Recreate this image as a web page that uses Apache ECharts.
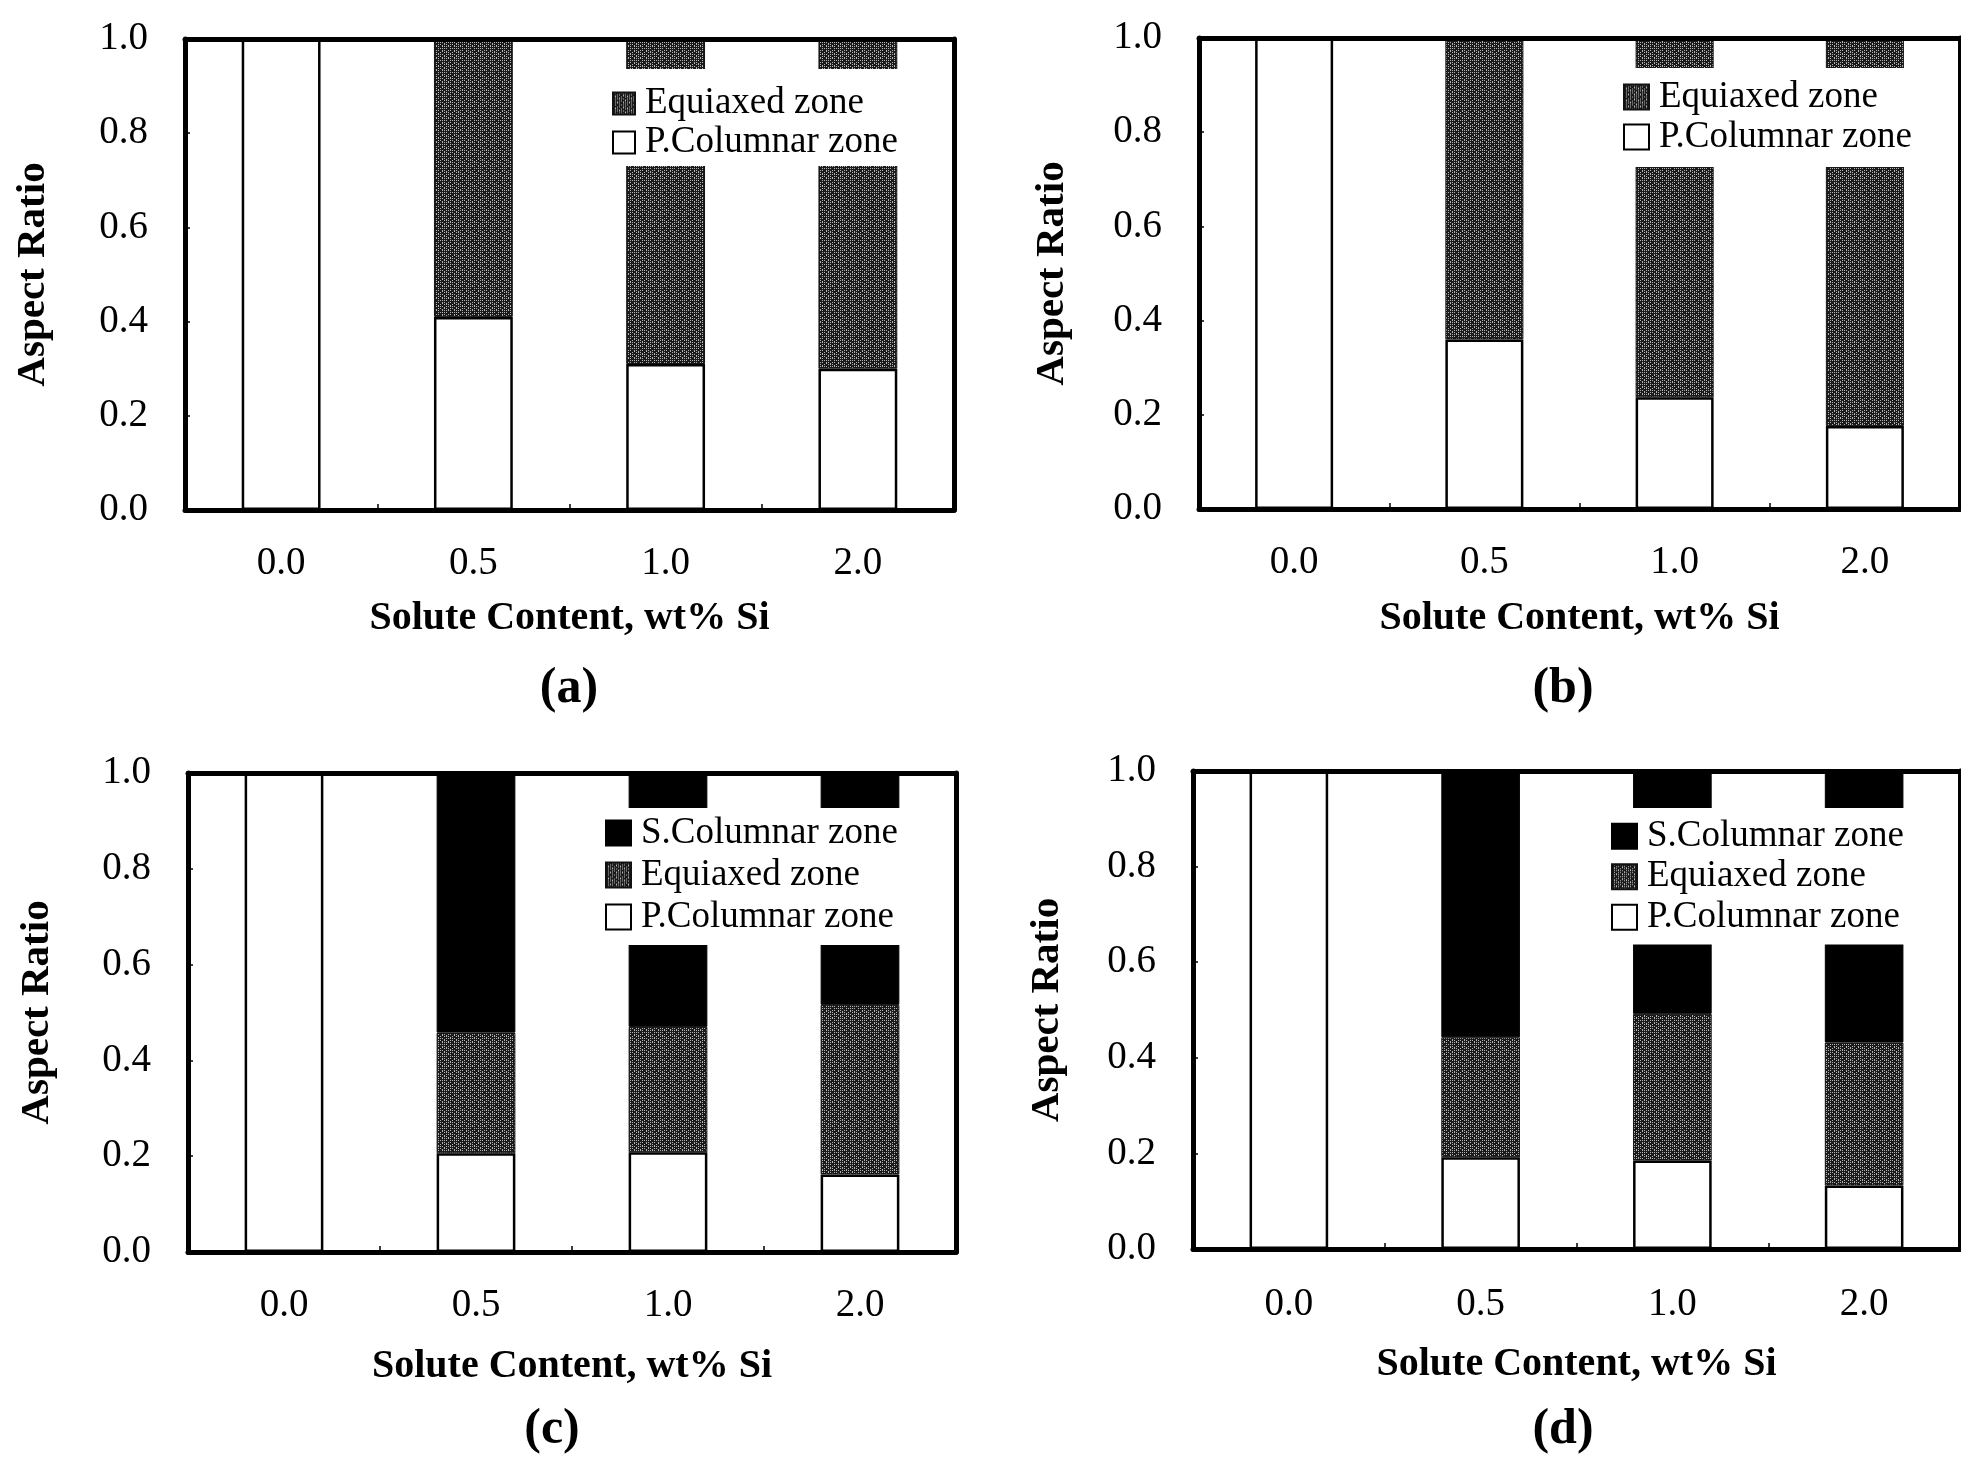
<!DOCTYPE html>
<html><head><meta charset="utf-8">
<style>html,body{margin:0;padding:0;background:#fff}#c{width:1961px;height:1458px}</style>
<script src="https://cdn.jsdelivr.net/npm/echarts@6/dist/echarts.min.js"></script>
</head><body><div id="c"></div>
<script>
// ---- data ----
const categories = ['0.0', '0.5', '1.0', '2.0'];
const xAxisTitle = 'Solute Content, wt% Si';
const yAxisTitle = 'Aspect Ratio';
const panelLabels = ['(a)', '(b)', '(c)', '(d)'];
const seriesNames = ['P.Columnar zone', 'Equiaxed zone', 'S.Columnar zone'];

const pColA = [1.0, 0.41, 0.31, 0.30];
const eqA   = [0, 0.59, 0.69, 0.70];

const pColB = [1.0, 0.36, 0.237, 0.176];
const eqB   = [0, 0.64, 0.763, 0.824];

const pColC = [1.0, 0.206, 0.208, 0.162];
const eqC   = [0, 0.252, 0.262, 0.354];
const sColC = [0, 0.542, 0.53, 0.484];

const pColD = [1.0, 0.192, 0.185, 0.133];
const eqD   = [0, 0.251, 0.307, 0.299];
const sColD = [0, 0.557, 0.508, 0.568];

// ---- styling ----
const FONT = '"Liberation Serif", "Times New Roman", serif';

function makeStipple() {
  const rows = [
    'o.o...o.o.o.',
    '............',
    'o...o.o...o.',
    '..o.......o.',
    'o.o.o...o...',
    '......o.....',
    '..o.o.o.o.o.',
    'o...........',
    'o.o...o.o...',
    '....o.....o.',
    'o.o.o.o...o.',
    '............'
  ];
  const cv = document.createElement('canvas');
  cv.width = 12; cv.height = 12;
  const ctx = cv.getContext('2d');
  ctx.fillStyle = '#1a1a1a';
  ctx.fillRect(0, 0, 12, 12);
  ctx.fillStyle = '#b4b4b4';
  rows.forEach((r, y) => { for (let x = 0; x < r.length; x++) if (r[x] === 'o') ctx.fillRect(x, y, 1, 1); });
  return cv;
}
const stipple = { image: makeStipple(), repeat: 'repeat' };

const panels = [
  { p: pColA, eq: eqA, s: null, grid: { left: 185, top: 39, width: 769, height: 471 },
    legend: { left: 600, top: 69, padding: [15, 10, 4, 12], icon: 22, lh: 39 },
    yNameGap: 131, xNameGap: 89, xLabelMargin: 34, label: [569, 689] },
  { p: pColB, eq: eqB, s: null, grid: { left: 1199, top: 38, width: 761, height: 471 },
    legend: { left: 1611, top: 68, padding: [9, 10, 10, 12], icon: 25, lh: 40 },
    yNameGap: 126, xNameGap: 90, xLabelMargin: 34, label: [1563, 689] },
  { p: pColC, eq: eqC, s: sColC, grid: { left: 188, top: 773, width: 768, height: 479 },
    legend: { left: 593, top: 808, padding: [4, 10, 7, 12], icon: 25, lh: 42 },
    yNameGap: 130, xNameGap: 95, xLabelMargin: 34, label: [552, 1430] },
  { p: pColD, eq: eqD, s: sColD, grid: { left: 1193, top: 771, width: 767, height: 478 },
    legend: { left: 1599, top: 808, padding: [8, 10, 7, 12], icon: 25, lh: 40.5 },
    yNameGap: 125, xNameGap: 96, xLabelMargin: 36, label: [1563, 1430] }
];

const option = { animation: false, backgroundColor: '#fff', grid: [], xAxis: [], yAxis: [], series: [], legend: [], graphic: [] };

panels.forEach((pn, i) => {
  option.grid.push(Object.assign({ containLabel: false }, pn.grid));
  const axisLine = { show: true, onZero: false, lineStyle: { color: '#000', width: 5 } };
  option.xAxis.push({
    gridIndex: i, type: 'category', data: categories, position: 'bottom', boundaryGap: true, z: 10,
    axisLine: axisLine,
    axisTick: { show: true, inside: true, length: 6, lineStyle: { color: '#000', width: 1.5 } },
    axisLabel: { margin: pn.xLabelMargin, fontSize: 39, color: '#000', fontFamily: FONT },
    splitLine: { show: false },
    name: xAxisTitle, nameLocation: 'middle', nameGap: pn.xNameGap,
    nameTextStyle: { fontFamily: FONT, fontWeight: 'bold', fontSize: 40, color: '#000' }
  });
  option.xAxis.push({
    gridIndex: i, type: 'category', data: categories, position: 'top', boundaryGap: true, z: 10,
    axisLine: axisLine, axisTick: { show: false }, axisLabel: { show: false }, splitLine: { show: false }
  });
  option.yAxis.push({
    gridIndex: i, type: 'value', min: 0, max: 1, interval: 0.2, position: 'left', z: 10,
    axisLine: axisLine,
    axisTick: { show: true, inside: true, length: 5, lineStyle: { color: '#000', width: 1.5 } },
    axisLabel: { margin: 37, fontSize: 39, color: '#000', fontFamily: FONT, formatter: v => v.toFixed(1) },
    splitLine: { show: false },
    name: yAxisTitle, nameLocation: 'middle', nameGap: pn.yNameGap,
    nameTextStyle: { fontFamily: FONT, fontWeight: 'bold', fontSize: 41, color: '#000' }
  });
  option.yAxis.push({
    gridIndex: i, type: 'value', min: 0, max: 1, interval: 0.2, position: 'right', z: 10,
    axisLine: axisLine, axisTick: { show: false }, axisLabel: { show: false }, splitLine: { show: false }
  });
  const base = { type: 'bar', xAxisIndex: 2 * i, yAxisIndex: 2 * i, stack: 'st' + i, barWidth: '41%', z: 2 };
  option.series.push(Object.assign({}, base, { name: seriesNames[0], data: pn.p,
    itemStyle: { color: '#fff', borderColor: '#000', borderWidth: 2.5 } }));
  option.series.push(Object.assign({}, base, { name: seriesNames[1], data: pn.eq,
    itemStyle: { color: stipple, borderColor: '#111', borderWidth: 1 } }));
  const legendData = [seriesNames[1], seriesNames[0]];
  if (pn.s) {
    option.series.push(Object.assign({}, base, { name: seriesNames[2], data: pn.s,
      itemStyle: { color: '#000', borderColor: '#000', borderWidth: 1 } }));
    legendData.unshift(seriesNames[2]);
  }
  option.legend.push({
    orient: 'vertical', left: pn.legend.left, top: pn.legend.top, padding: pn.legend.padding,
    backgroundColor: '#fff', itemGap: 0, icon: 'rect', z: 6,
    itemWidth: pn.legend.icon, itemHeight: pn.legend.icon, selectedMode: false,
    data: legendData,
    textStyle: { fontFamily: FONT, fontSize: 37, color: '#000', lineHeight: pn.legend.lh, padding: [0, 0, 0, 5] }
  });
  option.graphic.push({
    type: 'text', x: pn.label[0], y: pn.label[1], z: 10,
    style: { text: panelLabels[i], font: 'bold 50px ' + FONT, fill: '#000', align: 'center', verticalAlign: 'middle' }
  });
});

const chart = echarts.init(document.getElementById('c'), null, { renderer: 'canvas', width: 1961, height: 1458 });
chart.setOption(option);
</script>
</body></html>
